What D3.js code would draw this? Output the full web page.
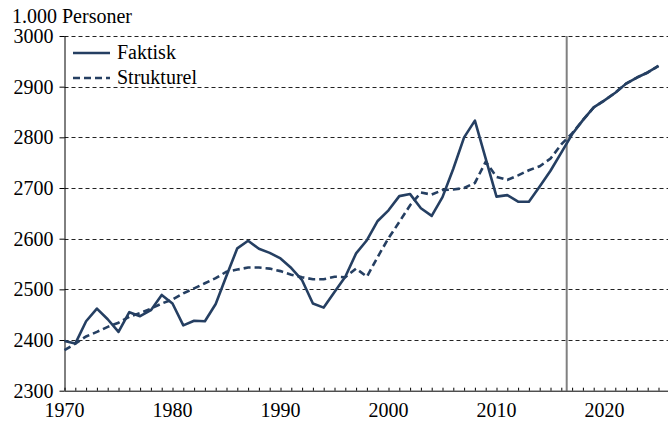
<!DOCTYPE html>
<html>
<head>
<meta charset="utf-8">
<script src="https://cdn.jsdelivr.net/npm/d3@7"></script>
</head>
<body style="margin:0">
<svg width="668" height="422" id="chart"></svg>
<script>
var years = d3.range(1970, 2026);

// 1.000 personer
var faktisk = [2398, 2393, 2437, 2462, 2441, 2416, 2455, 2447, 2459, 2489,
               2472, 2429, 2438, 2437, 2471, 2527, 2581, 2596, 2580, 2572,
               2561, 2542, 2518, 2472, 2464, 2495, 2525, 2571, 2597, 2635,
               2656, 2684, 2688, 2660, 2645, 2682, 2738, 2800, 2833, 2758,
               2683, 2686, 2673, 2673, 2703, 2734, 2770, 2806, 2834, 2859,
               2873, 2888, 2906, 2918, 2928, 2941];
var strukturel = [2380, 2393, 2407, 2416, 2426, 2434, 2446, 2453, 2462, 2472,
                  2480, 2492, 2502, 2512, 2522, 2535, 2539, 2543, 2543, 2541,
                  2536, 2529, 2524, 2520, 2520, 2525, 2524, 2541, 2525, 2564,
                  2601, 2633, 2666, 2691, 2687, 2696, 2697, 2700, 2710, 2752,
                  2722, 2716, 2725, 2735, 2743, 2758, 2786, 2808, 2834, 2859,
                  2873, 2888, 2906, 2918, 2928, 2941];
var yTicks = [2300, 2400, 2500, 2600, 2700, 2800, 2900, 3000];
var xTicks = [1970, 1980, 1990, 2000, 2010, 2020];
var cutYear = 2016.5;

var width = 668, height = 422;
var x0 = 64.5, y0 = 390.7;
var lineColor = "#253f62";
var font = "Liberation Serif";

var svg = d3.select("#chart");

var x = d3.scaleLinear().domain([1970, 2020]).range([x0, 604.5]);
var y = d3.scaleLinear().domain([2300, 3000]).range([y0, 36]);

// gridlines
svg.append("g")
    .selectAll("line")
    .data(yTicks.slice(1))
    .enter().append("line")
    .attr("x1", x0).attr("x2", width)
    .attr("y1", function (d) { return Math.round(y(d)) + 0.5; })
    .attr("y2", function (d) { return Math.round(y(d)) + 0.5; })
    .attr("stroke", "#222")
    .attr("stroke-width", 1)
    .attr("stroke-dasharray", "4,3");

// vertical divider
svg.append("line")
    .attr("x1", x(cutYear)).attr("x2", x(cutYear))
    .attr("y1", y(3000)).attr("y2", y(2300))
    .attr("stroke", "#808080")
    .attr("stroke-width", 2);

// y axis, labels drawn separately
var yAxis = d3.axisLeft(y).tickValues(yTicks).tickSize(5).tickFormat("");
var gy = svg.append("g")
    .attr("transform", "translate(" + x0 + ",0)")
    .call(yAxis);
gy.select(".domain").attr("stroke", "#000").attr("d", "M0.5," + y(3000) + "V" + y(2300));
gy.selectAll(".tick line").attr("stroke", "#000");

svg.append("g")
    .selectAll("text")
    .data(yTicks)
    .enter().append("text")
    .attr("x", x0 - 11)
    .attr("y", function (d) { return y(d) + 7; })
    .attr("text-anchor", "end")
    .attr("font-family", font)
    .attr("font-size", 20)
    .text(function (d) { return d; });

// x axis: yearly minor ticks pointing up
var xAxis = d3.axisBottom(x).tickValues(d3.range(1970, 2026)).tickSize(-3).tickFormat("");
var gx = svg.append("g")
    .attr("transform", "translate(0," + y0 + ")")
    .call(xAxis);
gx.select(".domain").attr("stroke", "#000").attr("d", "M" + x0 + ",0.5H" + width);
gx.selectAll(".tick line").attr("stroke", "#000");

svg.append("g")
    .selectAll("text")
    .data(xTicks)
    .enter().append("text")
    .attr("x", function (d) { return x(d); })
    .attr("y", 417)
    .attr("text-anchor", "middle")
    .attr("font-family", font)
    .attr("font-size", 20)
    .text(function (d) { return d; });

// lines
var line = d3.line()
    .x(function (d, i) { return x(years[i]); })
    .y(function (d) { return y(d); });

svg.append("path")
    .datum(strukturel)
    .attr("d", line)
    .attr("fill", "none")
    .attr("stroke", lineColor)
    .attr("stroke-width", 2.6)
    .attr("stroke-dasharray", "7,4");

svg.append("path")
    .datum(faktisk)
    .attr("d", line)
    .attr("fill", "none")
    .attr("stroke", lineColor)
    .attr("stroke-width", 2.6)
    .attr("stroke-linejoin", "round");

// unit label
svg.append("text")
    .attr("x", 12).attr("y", 23)
    .attr("font-family", font)
    .attr("font-size", 20)
    .text("1.000 Personer");

// legend
var legend = [
    {name: "Faktisk", dash: null, y: 53},
    {name: "Strukturel", dash: "7,4", y: 78}
];
var lg = svg.append("g");
legend.forEach(function (l) {
    lg.append("line")
        .attr("x1", 73).attr("x2", 110)
        .attr("y1", l.y).attr("y2", l.y)
        .attr("stroke", lineColor)
        .attr("stroke-width", 2.6)
        .attr("stroke-dasharray", l.dash);
    lg.append("text")
        .attr("x", 117).attr("y", l.y + 6)
        .attr("font-family", font)
        .attr("font-size", 20)
        .text(l.name);
});
</script>
</body>
</html>
